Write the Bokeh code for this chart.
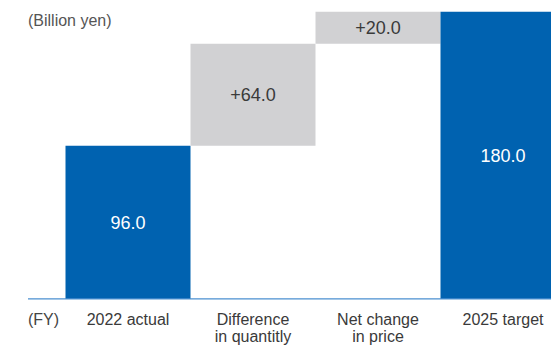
from bokeh.plotting import figure
from bokeh.models import ColumnDataSource, Range1d
from bokeh.core.properties import value
from bokeh.embed import file_html
from bokeh.resources import INLINE

categories = ["2022 actual", "Difference\nin quantitly", "Net change\nin price", "2025 target"]
steps = [96.0, 64.0, 20.0, 180.0]
kinds = ["total", "delta", "delta", "total"]
labels = ["96.0", "+64.0", "+20.0", "180.0"]

BLUE = "#0062B0"
GRAY = "#D1D1D3"
FONT = value("Liberation Sans")

bottoms, tops = [], []
run = 0.0
for s, k in zip(steps, kinds):
    if k == "total":
        bottoms.append(0.0); tops.append(s); run = s
    else:
        bottoms.append(run); tops.append(run + s); run += s

xs = list(range(len(categories)))
colors = [BLUE if k == "total" else GRAY for k in kinds]
tcolors = ["white" if k == "total" else "#3a3a3a" for k in kinds]
mids = [(b + t) / 2 for b, t in zip(bottoms, tops)]

src = ColumnDataSource(dict(x=xs, bottom=bottoms, top=tops, color=colors,
                            label=labels, mid=mids, tcolor=tcolors, cat=categories))

p = figure(width=551, height=346, output_backend="svg", toolbar_location=None,
           x_range=Range1d(-1.02, 3.388), y_range=Range1d(-29.8, 187.1),
           min_border=0, min_border_left=0, min_border_right=0,
           min_border_top=0, min_border_bottom=0)
p.axis.visible = False
p.grid.visible = False
p.outline_line_color = None
p.background_fill_color = "white"
p.border_fill_color = "white"

p.vbar(x="x", bottom="bottom", top="top", width=1.0, fill_color="color",
       line_color=None, source=src)

p.segment(x0=[-0.80], y0=[0], x1=[3.5], y1=[0], line_color="#4A8FD0", line_width=1.2)

p.text(x="x", y="mid", text="label", text_color="tcolor", text_align="center",
       text_baseline="middle", text_font=FONT, text_font_size="18px", source=src)

p.text(x="x", y=-7.4, text="cat", text_color="#3a3a3a", text_align="center",
       text_baseline="top", text_font=FONT, text_font_size="16px",
       text_line_height=1.0, source=src)

p.text(x=[-0.80], y=[-7.4], text=["(FY)"], text_color="#444444", text_align="left",
       text_baseline="top", text_font=FONT, text_font_size="16px")
p.text(x=[-0.80], y=[174.5], text=["(Billion yen)"], text_color="#555555", text_align="left",
       text_baseline="middle", text_font=FONT, text_font_size="16px")

open("out.html", "w").write(file_html(p, INLINE))
